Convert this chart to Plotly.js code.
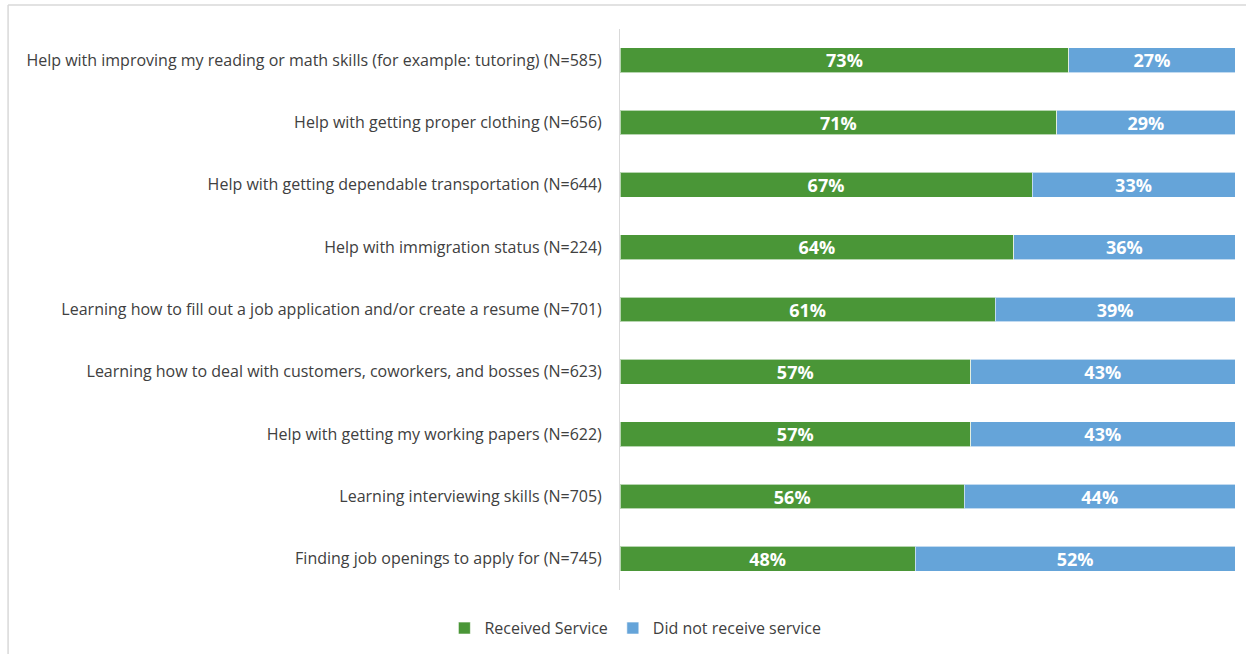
<!DOCTYPE html>
<html>
<head>
<meta charset="utf-8">
<script src="https://cdn.plot.ly/plotly-3.0.1.min.js"></script>
<style>
html,body{margin:0;padding:0;background:#fff;}
#chart{width:1246px;height:654px;}
</style>
</head>
<body>
<div id="chart"></div>
<script>
const categories = [
  "Help with improving my reading or math skills (for example: tutoring) (N=585)",
  "Help with getting proper clothing (N=656)",
  "Help with getting dependable transportation (N=644)",
  "Help with immigration status (N=224)",
  "Learning how to fill out a job application and/or create a resume (N=701)",
  "Learning how to deal with customers, coworkers, and bosses (N=623)",
  "Help with getting my working papers (N=622)",
  "Learning interviewing skills (N=705)",
  "Finding job openings to apply for (N=745)"
];
const received = [73, 71, 67, 64, 61, 57, 57, 56, 48];
const notReceived = [27, 29, 33, 36, 39, 43, 43, 44, 52];
const seriesNames = ["Received Service", "Did not receive service"];

const barStyle = (color) => ({color: color, line: {color: "rgba(255,255,255,0.6)", width: 1}});
const labelFont = {family: "Open Sans, Arial, sans-serif", size: 18, color: "#ffffff", weight: "bold"};
const textFont = "'Open Sans', 'Noto Sans', sans-serif";

const traces = [
  {
    type: "bar", orientation: "h", name: seriesNames[0],
    y: categories, x: received,
    text: received.map(v => v + "%"), textposition: "inside", insidetextanchor: "middle",
    constraintext: "none",
    textfont: labelFont, marker: barStyle("#4a9637"), width: 0.4, hoverinfo: "x+y"
  },
  {
    type: "bar", orientation: "h", name: seriesNames[1],
    y: categories, x: notReceived,
    text: notReceived.map(v => v + "%"), textposition: "inside", insidetextanchor: "middle",
    constraintext: "none",
    textfont: labelFont, marker: barStyle("#65a4d9"), width: 0.4, hoverinfo: "x+y"
  }
];

const layout = {
  width: 1246, height: 654,
  margin: {l: 620, r: 11, t: 29, b: 64, autoexpand: false},
  barmode: "stack",
  paper_bgcolor: "#ffffff", plot_bgcolor: "#ffffff",
  font: {family: textFont, size: 16, color: "#404040"},
  xaxis: {range: [0, 100], visible: false, fixedrange: true},
  yaxis: {
    autorange: "reversed", showline: true, linecolor: "#d9d9d9", linewidth: 1,
    ticks: "", ticklabelstandoff: 14, showgrid: false, zeroline: false, automargin: false,
    tickfont: {family: textFont, size: 16, color: "#404040"}
  },
  legend: {
    orientation: "h", traceorder: "normal", x: 0.025, y: -0.068, xanchor: "center", yanchor: "middle",
    font: {family: textFont, size: 16, color: "#404040"},
    itemwidth: 30
  },
  showlegend: true,
  shapes: [
    {type: "line", xref: "paper", yref: "paper", x0: -0.995, x1: 1.02, y0: 1.043, y1: 1.043, line: {color: "#d9d9d9", width: 1.5}},
    {type: "line", xref: "paper", yref: "paper", x0: -0.995, x1: -0.995, y0: 1.043, y1: -0.12, line: {color: "#d9d9d9", width: 1.5}}
  ]
};

Plotly.newPlot("chart", traces, layout, {displayModeBar: false, staticPlot: true});
</script>
</body>
</html>
